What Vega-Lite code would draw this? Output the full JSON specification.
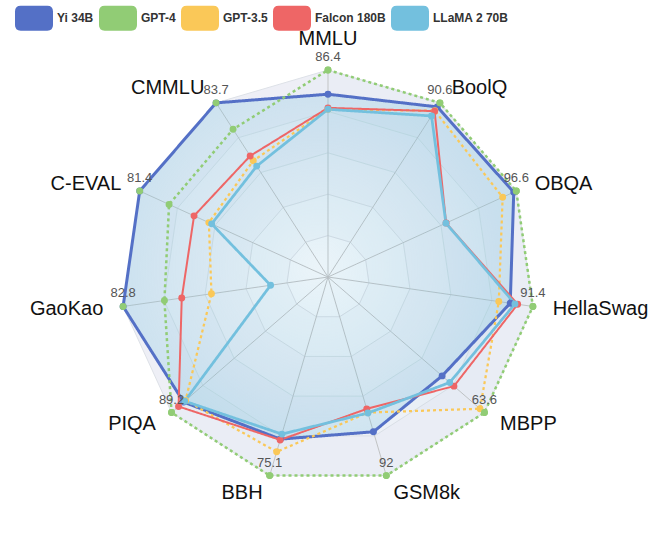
{
  "$schema": "https://vega.github.io/schema/vega-lite/v6.json",
  "width": 663,
  "height": 553,
  "autosize": "none",
  "padding": 0,
  "background": "white",
  "config": {"view": {"stroke": null}},
  "datasets": {
    "axes": [
      {"benchmark": "MMLU", "order": 0, "rings": [1, 0.8, 0.6, 0.4, 0.2]},
      {"benchmark": "BoolQ", "order": 1, "rings": [1, 0.8, 0.6, 0.4, 0.2]},
      {"benchmark": "OBQA", "order": 2, "rings": [1, 0.8, 0.6, 0.4, 0.2]},
      {"benchmark": "HellaSwag", "order": 3, "rings": [1, 0.8, 0.6, 0.4, 0.2]},
      {"benchmark": "MBPP", "order": 4, "rings": [1, 0.8, 0.6, 0.4, 0.2]},
      {"benchmark": "GSM8k", "order": 5, "rings": [1, 0.8, 0.6, 0.4, 0.2]},
      {"benchmark": "BBH", "order": 6, "rings": [1, 0.8, 0.6, 0.4, 0.2]},
      {"benchmark": "PIQA", "order": 7, "rings": [1, 0.8, 0.6, 0.4, 0.2]},
      {"benchmark": "GaoKao", "order": 8, "rings": [1, 0.8, 0.6, 0.4, 0.2]},
      {"benchmark": "C-EVAL", "order": 9, "rings": [1, 0.8, 0.6, 0.4, 0.2]},
      {"benchmark": "CMMLU", "order": 10, "rings": [1, 0.8, 0.6, 0.4, 0.2]}
    ],
    "scores": [
      {"model": "Yi 34B", "benchmark": "MMLU", "value": 76.3},
      {"model": "Yi 34B", "benchmark": "BoolQ", "value": 88.5},
      {"model": "Yi 34B", "benchmark": "OBQA", "value": 95.3},
      {"model": "Yi 34B", "benchmark": "HellaSwag", "value": 81.3},
      {"model": "Yi 34B", "benchmark": "MBPP", "value": 46.4},
      {"model": "Yi 34B", "benchmark": "GSM8k", "value": 71.7},
      {"model": "Yi 34B", "benchmark": "BBH", "value": 61.3},
      {"model": "Yi 34B", "benchmark": "PIQA", "value": 82.3},
      {"model": "Yi 34B", "benchmark": "GaoKao", "value": 82.8},
      {"model": "Yi 34B", "benchmark": "C-EVAL", "value": 81.4},
      {"model": "Yi 34B", "benchmark": "CMMLU", "value": 83.7},
      {"model": "GPT-4", "benchmark": "MMLU", "value": 86.4},
      {"model": "GPT-4", "benchmark": "BoolQ", "value": 90.6},
      {"model": "GPT-4", "benchmark": "OBQA", "value": 96.6},
      {"model": "GPT-4", "benchmark": "HellaSwag", "value": 91.4},
      {"model": "GPT-4", "benchmark": "MBPP", "value": 63.6},
      {"model": "GPT-4", "benchmark": "GSM8k", "value": 92},
      {"model": "GPT-4", "benchmark": "BBH", "value": 75.1},
      {"model": "GPT-4", "benchmark": "PIQA", "value": 89.2},
      {"model": "GPT-4", "benchmark": "GaoKao", "value": 66.1},
      {"model": "GPT-4", "benchmark": "C-EVAL", "value": 68.7},
      {"model": "GPT-4", "benchmark": "CMMLU", "value": 71.0},
      {"model": "GPT-3.5", "benchmark": "MMLU", "value": 70.0},
      {"model": "GPT-3.5", "benchmark": "BoolQ", "value": 86.5},
      {"model": "GPT-3.5", "benchmark": "OBQA", "value": 89.6},
      {"model": "GPT-3.5", "benchmark": "HellaSwag", "value": 76.2},
      {"model": "GPT-3.5", "benchmark": "MBPP", "value": 61.8},
      {"model": "GPT-3.5", "benchmark": "GSM8k", "value": 62.8},
      {"model": "GPT-3.5", "benchmark": "BBH", "value": 66.1},
      {"model": "GPT-3.5", "benchmark": "PIQA", "value": 81.2},
      {"model": "GPT-3.5", "benchmark": "GaoKao", "value": 47.1},
      {"model": "GPT-3.5", "benchmark": "C-EVAL", "value": 51.5},
      {"model": "GPT-3.5", "benchmark": "CMMLU", "value": 55.9},
      {"model": "Falcon 180B", "benchmark": "MMLU", "value": 70.6},
      {"model": "Falcon 180B", "benchmark": "BoolQ", "value": 86.3},
      {"model": "Falcon 180B", "benchmark": "OBQA", "value": 60.6},
      {"model": "Falcon 180B", "benchmark": "HellaSwag", "value": 84.6},
      {"model": "Falcon 180B", "benchmark": "MBPP", "value": 51.2},
      {"model": "Falcon 180B", "benchmark": "GSM8k", "value": 61.1},
      {"model": "Falcon 180B", "benchmark": "BBH", "value": 61.6},
      {"model": "Falcon 180B", "benchmark": "PIQA", "value": 85.2},
      {"model": "Falcon 180B", "benchmark": "GaoKao", "value": 59.1},
      {"model": "Falcon 180B", "benchmark": "C-EVAL", "value": 57.9},
      {"model": "Falcon 180B", "benchmark": "CMMLU", "value": 58.2},
      {"model": "LLaMA 2 70B", "benchmark": "MMLU", "value": 70.0},
      {"model": "LLaMA 2 70B", "benchmark": "BoolQ", "value": 83.8},
      {"model": "LLaMA 2 70B", "benchmark": "OBQA", "value": 60.5},
      {"model": "LLaMA 2 70B", "benchmark": "HellaSwag", "value": 83.4},
      {"model": "LLaMA 2 70B", "benchmark": "MBPP", "value": 49.5},
      {"model": "LLaMA 2 70B", "benchmark": "GSM8k", "value": 63.0},
      {"model": "LLaMA 2 70B", "benchmark": "BBH", "value": 59.4},
      {"model": "LLaMA 2 70B", "benchmark": "PIQA", "value": 81.7},
      {"model": "LLaMA 2 70B", "benchmark": "GaoKao", "value": 23.2},
      {"model": "LLaMA 2 70B", "benchmark": "C-EVAL", "value": 50.3},
      {"model": "LLaMA 2 70B", "benchmark": "CMMLU", "value": 53.3}
    ]
  },
  "layer": [
    {
      "data": {"name": "axes"},
      "transform": [
        {"flatten": ["rings"], "as": ["level"]},
        {"calculate": "datum.order * 2 * PI / 11", "as": "theta"},
        {"calculate": "datum.level * sin(datum.theta)", "as": "px"},
        {"calculate": "datum.level * cos(datum.theta)", "as": "py"}
      ],
      "mark": {"type": "line", "interpolate": "linear-closed", "stroke": "#dde1e7", "strokeWidth": 1},
      "encoding": {
        "x": {"field": "px", "type": "quantitative", "scale": {"domain": [-1.5845, 1.6184]}, "axis": null},
        "y": {"field": "py", "type": "quantitative", "scale": {"domain": [-1.3333, 1.3382]}, "axis": null},
        "detail": {"field": "level", "type": "ordinal"},
        "order": {"field": "order", "type": "quantitative"},
        "fill": {"field": "level", "type": "ordinal", "scale": {"domain": [1, 0.8, 0.6, 0.4, 0.2], "range": ["#eeeff6", "#f1f3f8", "#f4f6f9", "#f7f9fb", "#fbfcfd"]}, "legend": null}
      }
    },
    {
      "data": {"name": "axes"},
      "transform": [
        {"calculate": "datum.order * 2 * PI / 11", "as": "theta"},
        {"calculate": "sin(datum.theta)", "as": "ox"},
        {"calculate": "cos(datum.theta)", "as": "oy"}
      ],
      "mark": {"type": "rule", "stroke": "#c4c4c4", "strokeWidth": 1},
      "encoding": {
        "x": {"field": "ox", "type": "quantitative", "scale": {"domain": [-1.5845, 1.6184]}, "axis": null},
        "y": {"field": "oy", "type": "quantitative", "scale": {"domain": [-1.3333, 1.3382]}, "axis": null},
        "x2": {"datum": 0},
        "y2": {"datum": 0}
      }
    },
    {
      "data": {"name": "scores"},
      "transform": [
        {"lookup": "benchmark", "from": {"data": {"name": "axes"}, "key": "benchmark", "fields": ["order"]}},
        {"joinaggregate": [{"op": "max", "field": "value", "as": "axmax"}], "groupby": ["benchmark"]},
        {"calculate": "datum.order * 2 * PI / 11", "as": "theta"},
        {"calculate": "datum.value / datum.axmax * sin(datum.theta)", "as": "px"},
        {"calculate": "datum.value / datum.axmax * cos(datum.theta)", "as": "py"}
      ],
      "layer": [
        {
          "transform": [{"filter": "datum.model == 'Yi 34B'"}],
          "mark": {"type": "line", "interpolate": "linear-closed", "strokeWidth": 0, "fill": {"gradient": "radial", "x1": 0.5, "y1": 0.5, "x2": 0.5, "y2": 0.5, "r1": 0, "r2": 0.55, "stops": [{"offset": 0, "color": "rgba(115,192,222,0)"}, {"offset": 0.35, "color": "rgba(115,192,222,0.1)"}, {"offset": 1, "color": "rgba(115,192,222,0.3)"}]}},
          "encoding": {
            "x": {"field": "px", "type": "quantitative", "scale": {"domain": [-1.5845, 1.6184]}, "axis": null},
            "y": {"field": "py", "type": "quantitative", "scale": {"domain": [-1.3333, 1.3382]}, "axis": null},
            "order": {"field": "order", "type": "quantitative"}
          }
        },
        {
          "transform": [{"filter": "datum.model != 'Yi 34B'"}],
          "mark": {"type": "line", "interpolate": "linear-closed", "strokeWidth": 0, "fill": "#73c0de", "fillOpacity": 0.03},
          "encoding": {
            "x": {"field": "px", "type": "quantitative", "scale": {"domain": [-1.5845, 1.6184]}, "axis": null},
            "y": {"field": "py", "type": "quantitative", "scale": {"domain": [-1.3333, 1.3382]}, "axis": null},
            "detail": {"field": "model", "type": "nominal"},
            "order": {"field": "order", "type": "quantitative"}
          }
        },
        {
          "mark": {"type": "line", "interpolate": "linear-closed"},
          "encoding": {
            "x": {"field": "px", "type": "quantitative", "scale": {"domain": [-1.5845, 1.6184]}, "axis": null},
            "y": {"field": "py", "type": "quantitative", "scale": {"domain": [-1.3333, 1.3382]}, "axis": null},
            "stroke": {"field": "model", "type": "nominal", "scale": {"range": ["#ee6666", "#fac858", "#91cc75", "#73c0de", "#5470c6"]}, "legend": null},
            "strokeDash": {"field": "model", "type": "nominal", "scale": {"range": [[1, 0], [3, 3], [3, 3], [1, 0], [1, 0]]}, "legend": null},
            "strokeWidth": {"field": "model", "type": "ordinal", "scale": {"range": [2, 3, 3, 2, 2]}, "legend": null},
            "order": {"field": "order", "type": "quantitative"}
          }
        },
        {
          "mark": {"type": "point", "filled": true, "opacity": 1, "size": 48},
          "encoding": {
            "x": {"field": "px", "type": "quantitative", "scale": {"domain": [-1.5845, 1.6184]}, "axis": null},
            "y": {"field": "py", "type": "quantitative", "scale": {"domain": [-1.3333, 1.3382]}, "axis": null},
            "color": {
              "field": "model", "type": "nominal",
              "scale": {"domain": ["Yi 34B", "GPT-4", "GPT-3.5", "Falcon 180B", "LLaMA 2 70B"], "range": ["#5470c6", "#91cc75", "#fac858", "#ee6666", "#73c0de"]},
              "legend": {
                "orient": "none", "legendX": 15, "legendY": -1, "direction": "horizontal", "title": null,
                "symbolType": "M-0.7,-0.66 L0.7,-0.66 Q1,-0.66 1,-0.36 L1,0.36 Q1,0.66 0.7,0.66 L-0.7,0.66 Q-1,0.66 -1,0.36 L-1,-0.36 Q-1,-0.66 -0.7,-0.66 Z",
                "symbolSize": 1444, "symbolStrokeWidth": 0,
                "labelFont": "Liberation Sans", "labelFontSize": 12, "labelFontWeight": "bold", "labelColor": "#333",
                "columnPadding": 5, "labelOffset": 4
              }
            }
          }
        },
        {
          "transform": [{"filter": "datum.value == datum.axmax"}],
          "mark": {"type": "point", "filled": true, "opacity": 1, "size": 48, "color": "#91cc75"},
          "encoding": {
            "x": {"field": "px", "type": "quantitative", "scale": {"domain": [-1.5845, 1.6184]}, "axis": null},
            "y": {"field": "py", "type": "quantitative", "scale": {"domain": [-1.3333, 1.3382]}, "axis": null}
          }
        },
        {
          "transform": [{"filter": "datum.value == datum.axmax"}],
          "mark": {"type": "text", "font": "Liberation Sans", "fontSize": 13, "color": "#555", "dy": -13, "align": "center", "baseline": "middle"},
          "encoding": {
            "x": {"field": "px", "type": "quantitative", "scale": {"domain": [-1.5845, 1.6184]}, "axis": null},
            "y": {"field": "py", "type": "quantitative", "scale": {"domain": [-1.3333, 1.3382]}, "axis": null},
            "text": {"field": "value", "type": "nominal"}
          }
        }
      ]
    },
    {
      "data": {"name": "axes"},
      "transform": [
        {"calculate": "datum.order * 2 * PI / 11", "as": "theta"},
        {"calculate": "1.087 * sin(datum.theta)", "as": "nx"},
        {"calculate": "1.087 * cos(datum.theta)", "as": "ny"}
      ],
      "layer": [
        {
          "transform": [{"filter": "datum.order >= 1 && datum.order <= 5"}],
          "mark": {"type": "text", "font": "Liberation Sans", "fontSize": 20, "color": "#111", "align": "left", "baseline": "middle", "dx": 2},
          "encoding": {
            "x": {"field": "nx", "type": "quantitative", "scale": {"domain": [-1.5845, 1.6184]}, "axis": null},
            "y": {"field": "ny", "type": "quantitative", "scale": {"domain": [-1.3333, 1.3382]}, "axis": null},
            "text": {"field": "benchmark", "type": "nominal"}
          }
        },
        {
          "transform": [{"filter": "datum.order >= 6"}],
          "mark": {"type": "text", "font": "Liberation Sans", "fontSize": 20, "color": "#111", "align": "right", "baseline": "middle", "dx": -2},
          "encoding": {
            "x": {"field": "nx", "type": "quantitative", "scale": {"domain": [-1.5845, 1.6184]}, "axis": null},
            "y": {"field": "ny", "type": "quantitative", "scale": {"domain": [-1.3333, 1.3382]}, "axis": null},
            "text": {"field": "benchmark", "type": "nominal"}
          }
        },
        {
          "transform": [{"filter": "datum.order == 0"}],
          "mark": {"type": "text", "font": "Liberation Sans", "fontSize": 20, "color": "#111", "align": "center", "baseline": "bottom", "dy": -3},
          "encoding": {
            "x": {"field": "nx", "type": "quantitative", "scale": {"domain": [-1.5845, 1.6184]}, "axis": null},
            "y": {"field": "ny", "type": "quantitative", "scale": {"domain": [-1.3333, 1.3382]}, "axis": null},
            "text": {"field": "benchmark", "type": "nominal"}
          }
        }
      ]
    }
  ]
}
